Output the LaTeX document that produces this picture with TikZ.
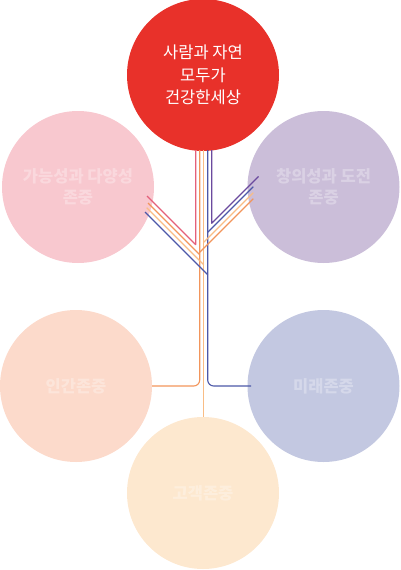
\documentclass[tikz,border=0pt]{standalone}
\usepackage{fontspec}
\setmainfont{Noto Sans CJK KR}
\definecolor{redc}{HTML}{E8312A}
\definecolor{pinkc}{HTML}{F8C8CF}
\definecolor{lilac}{HTML}{CBBED9}
\definecolor{peach}{HTML}{FCDACB}
\definecolor{bluec}{HTML}{C3C8E1}
\definecolor{cream}{HTML}{FDE8CF}
\definecolor{pinkl}{HTML}{E4607A}
\definecolor{orangel}{HTML}{F2955B}
\definecolor{lightl}{HTML}{F9BD85}
\definecolor{bluel}{HTML}{4C58A8}
\definecolor{purplel}{HTML}{6B4A9E}
\begin{document}
\begin{tikzpicture}[x=1pt,y=-1pt,line join=round,
	bubble/.style={circle,inner sep=0pt,minimum size=152pt,align=center,text=white,text opacity=0.3,font=\bfseries\fontsize{16.5}{20.5}\selectfont},
	ln/.style={line width=1.1pt}]
	\useasboundingbox (0,0) rectangle (400,570);
	\node[bubble,fill=redc,text opacity=1,font=\fontsize{16.5}{22.5}\selectfont] (top) at (203,75) {사람과 자연\\모두가\\건강한세상};
	\node[bubble,fill=pinkc] (diverse) at (78,187) {가능성과 다양성\\존중};
	\node[bubble,fill=lilac] (creative) at (323.5,187) {창의성과 도전\\존중};
	\node[bubble,fill=peach] (human) at (76,386) {인간존중};
	\node[bubble,fill=bluec] (future) at (323.5,386) {미래존중};
	\node[bubble,fill=cream] (client) at (203,493) {고객존중};
	\path 
	(195.7,150) coordinate (P0)
	(195.7,244.7) coordinate (P1)
	(147,196) coordinate (P2)
	(211.7,150) coordinate (V0)
	(211.7,223.3) coordinate (V1)
	(258.5,176.5) coordinate (V2)
	(199.7,150) coordinate (O0)
	(152,386) coordinate (O1)
	(207.7,150) coordinate (B0)
	(251,386) coordinate (B1)
	(203.7,150) coordinate (L0)
	(203.7,417) coordinate (L1)
	;
	\draw[ln,pinkl] (P0)--(P1)--(P2);
	\draw[ln,purplel] (V0)--(V1)--(V2);
	\draw[ln,lightl] (L0)--(L1);
	\draw[ln,orangel,rounded corners=6pt] (O0)|-(O1);
	\draw[ln,bluel,rounded corners=6pt] (B0)|-(B1);
	% left branches
	\draw[ln,orangel] (148,203)--(199.7,254.7);
	\draw[ln,lightl] (146.7,207.7)--(203.7,264.7);
	\draw[ln,bluel] (145,212)--(207.7,274.7);
	% right branches
	\draw[ln,bluel] (253.3,186.7)--(207.7,232.3);
	\draw[ln,lightl] (253.3,192.7)--(203.7,242.3);
	\draw[ln,orangel] (253.3,198.7)--(199.7,252.3);
\end{tikzpicture}
\end{document}
